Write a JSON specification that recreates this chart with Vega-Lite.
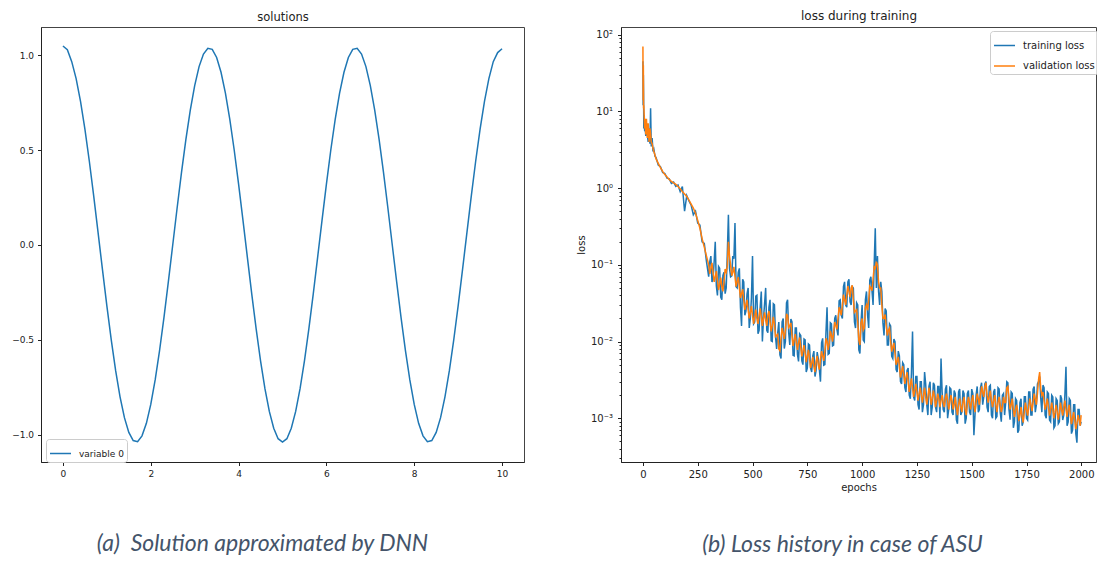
{
  "$schema": "https://vega.github.io/schema/vega-lite/v6.json",
  "background": "white",
  "padding": {"left": 11, "top": 8, "right": 0, "bottom": 4},
  "bounds": "flush",
  "spacing": 97,
  "config": {
    "view": {"stroke": "#444", "strokeWidth": 1},
    "axis": {"grid": false, "labelFont": "DejaVu Sans", "labelFontSize": 10, "labelColor": "#222", "tickColor": "#222", "domainColor": "#222", "tickSize": 3.5, "labelPadding": 3.5, "titleFont": "DejaVu Sans", "titleFontSize": 10, "titleFontWeight": "normal", "titleColor": "#222"},
    "legend": {"strokeColor": "#cccccc", "fillColor": "rgba(255,255,255,0.8)", "cornerRadius": 3, "padding": 3, "labelFont": "DejaVu Sans", "labelFontSize": 10, "labelColor": "#222", "symbolType": "stroke", "symbolSize": 441, "symbolStrokeWidth": 1.5, "labelOffset": 7, "rowPadding": 3.5},
    "title": {"font": "Lato", "fontStyle": "italic", "fontWeight": "normal", "fontSize": 23, "color": "#44546a", "frame": "group", "anchor": "middle"}
  },
  "resolve": {"scale": {"color": "independent"}, "legend": {"color": "independent"}},
  "hconcat": [
    {
      "width": 483,
      "height": 435,
      "title": {"text": "(a)\u00a0 Solution approximated by DNN", "orient": "bottom", "offset": 55, "dx": -20},
      "data": {"values": [
        {"x":0,"y":1.05},{"x":0.1,"y":1.03},{"x":0.2,"y":0.967},{"x":0.3,"y":0.878},{"x":0.4,"y":0.758},{"x":0.5,"y":0.611},{"x":0.6,"y":0.443},{"x":0.7,"y":0.259},{"x":0.8,"y":0.065},{"x":0.9,"y":-0.13},
        {"x":1.0,"y":-0.321},{"x":1.1,"y":-0.501},{"x":1.2,"y":-0.663},{"x":1.3,"y":-0.801},{"x":1.4,"y":-0.911},{"x":1.5,"y":-0.989},{"x":1.6,"y":-1.032},{"x":1.7,"y":-1.038},{"x":1.8,"y":-1.007},{"x":1.9,"y":-0.941},
        {"x":2.0,"y":-0.841},{"x":2.1,"y":-0.712},{"x":2.2,"y":-0.557},{"x":2.3,"y":-0.383},{"x":2.4,"y":-0.195},{"x":2.5,"y":0.0},{"x":2.6,"y":0.195},{"x":2.7,"y":0.383},{"x":2.8,"y":0.557},{"x":2.9,"y":0.712},
        {"x":3.0,"y":0.841},{"x":3.1,"y":0.941},{"x":3.2,"y":1.007},{"x":3.3,"y":1.038},{"x":3.4,"y":1.032},{"x":3.5,"y":0.989},{"x":3.6,"y":0.911},{"x":3.7,"y":0.801},{"x":3.8,"y":0.663},{"x":3.9,"y":0.501},
        {"x":4.0,"y":0.321},{"x":4.1,"y":0.13},{"x":4.2,"y":-0.065},{"x":4.3,"y":-0.259},{"x":4.4,"y":-0.443},{"x":4.5,"y":-0.611},{"x":4.6,"y":-0.758},{"x":4.7,"y":-0.878},{"x":4.8,"y":-0.967},{"x":4.9,"y":-1.022},
        {"x":5.0,"y":-1.04},{"x":5.1,"y":-1.022},{"x":5.2,"y":-0.967},{"x":5.3,"y":-0.878},{"x":5.4,"y":-0.758},{"x":5.5,"y":-0.611},{"x":5.6,"y":-0.443},{"x":5.7,"y":-0.259},{"x":5.8,"y":-0.065},{"x":5.9,"y":0.13},
        {"x":6.0,"y":0.321},{"x":6.1,"y":0.501},{"x":6.2,"y":0.663},{"x":6.3,"y":0.801},{"x":6.4,"y":0.911},{"x":6.5,"y":0.989},{"x":6.6,"y":1.032},{"x":6.7,"y":1.038},{"x":6.8,"y":1.007},{"x":6.9,"y":0.941},
        {"x":7.0,"y":0.841},{"x":7.1,"y":0.712},{"x":7.2,"y":0.557},{"x":7.3,"y":0.383},{"x":7.4,"y":0.195},{"x":7.5,"y":0.0},{"x":7.6,"y":-0.195},{"x":7.7,"y":-0.383},{"x":7.8,"y":-0.557},{"x":7.9,"y":-0.712},
        {"x":8.0,"y":-0.841},{"x":8.1,"y":-0.941},{"x":8.2,"y":-1.007},{"x":8.3,"y":-1.038},{"x":8.4,"y":-1.032},{"x":8.5,"y":-0.989},{"x":8.6,"y":-0.911},{"x":8.7,"y":-0.801},{"x":8.8,"y":-0.663},{"x":8.9,"y":-0.501},
        {"x":9.0,"y":-0.321},{"x":9.1,"y":-0.13},{"x":9.2,"y":0.065},{"x":9.3,"y":0.259},{"x":9.4,"y":0.443},{"x":9.5,"y":0.611},{"x":9.6,"y":0.758},{"x":9.7,"y":0.878},{"x":9.8,"y":0.967},{"x":9.9,"y":1.015},
        {"x":10.0,"y":1.035}
      ]},
      "resolve": {"axis": {"x": "independent", "y": "independent"}},
      "layer": [
        {
          "mark": {"type": "line", "strokeWidth": 1.5},
          "encoding": {
            "x": {"field": "x", "type": "quantitative", "scale": {"domain": [-0.5, 10.5], "nice": false, "zero": false}, "axis": {"values": [0, 2, 4, 6, 8, 10], "format": "d", "title": null, "labelFontSize": 9}},
            "y": {"field": "y", "type": "quantitative", "scale": {"domain": [-1.145, 1.15], "nice": false, "zero": false}, "axis": {"values": [-1, -0.5, 0, 0.5, 1], "format": ".1f", "title": null, "labelFontSize": 9, "labelPadding": 4}},
            "color": {"datum": "variable 0", "type": "nominal", "scale": {"range": ["#1f77b4"]}, "legend": {"orient": "none", "legendX": 5, "legendY": 412, "title": null, "labelFontSize": 9}}
          }
        },
        {
          "mark": {"type": "line", "opacity": 0},
          "encoding": {
            "x": {"field": "x", "type": "quantitative", "scale": {"domain": [-0.5, 10.5], "nice": false, "zero": false}, "axis": {"orient": "top", "title": "solutions", "labels": false, "ticks": false, "domain": false, "titleFontSize": 11.5, "titlePadding": 5, "titleFont": "DejaVu Sans"}},
            "y": {"field": "y", "type": "quantitative", "scale": {"domain": [-1.145, 1.15], "nice": false, "zero": false}, "axis": null}
          }
        }
      ]
    },
    {
      "width": 475,
      "height": 435,
      "title": {"text": "(b) Loss history in case of ASU", "orient": "bottom", "offset": 42, "dx": -16},
      "data": {"values": [
        {"e":0,"t":45,"v":70},{"e":1,"t":12,"v":14},{"e":2,"t":30,"v":40},{"e":3,"t":17,"v":11},{"e":4,"t":6,"v":12},{"e":6,"t":9,"v":8.5},{"e":8,"t":5.5,"v":6},{"e":10,"t":6.5,"v":8},{"e":13,"t":4.8,"v":5},{"e":16,"t":7,"v":8},
        {"e":20,"t":5,"v":4.5},{"e":24,"t":4,"v":7},{"e":28,"t":6,"v":4},{"e":32,"t":3.8,"v":6},{"e":35,"t":11,"v":5},{"e":38,"t":3.5,"v":4},{"e":42,"t":4.5,"v":3.8},{"e":46,"t":3,"v":3.3},{"e":50,"t":3.2,"v":3},{"e":55,"t":2.6,"v":2.7},
        {"e":60,"t":2.5,"v":2.4},{"e":70,"t":2.0,"v":2.1},{"e":80,"t":1.9,"v":1.85},{"e":90,"t":1.6,"v":1.65},{"e":100,"t":1.55,"v":1.5},{"e":110,"t":1.35,"v":1.4},{"e":120,"t":1.32,"v":1.3},{"e":130,"t":1.15,"v":1.22},{"e":140,"t":1.2,"v":1.17},{"e":150,"t":1.05,"v":1.12},
        {"e":160,"t":1.1,"v":1.05},{"e":170,"t":0.9,"v":0.98},{"e":180,"t":1.05,"v":0.9},{"e":190,"t":0.5,"v":0.84},{"e":200,"t":0.8,"v":0.78},{"e":210,"t":0.68,"v":0.7},{"e":220,"t":0.6,"v":0.62},{"e":230,"t":0.45,"v":0.55},{"e":240,"t":0.5,"v":0.47},{"e":250,"t":0.35,"v":0.38},
        {"e":260,"t":0.33,"v":0.3},{"e":270,"t":0.2,"v":0.22},{"e":280,"t":0.19,"v":0.17},{"e":290,"t":0.11,"v":0.13},{"e":300,"t":0.07,"v":0.1},{"e":310,"t":0.13,"v":0.09},{"e":320,"t":0.065,"v":0.08},{"e":330,"t":0.2,"v":0.07},{"e":340,"t":0.04,"v":0.062},{"e":350,"t":0.09,"v":0.056},
        {"e":360,"t":0.035,"v":0.052},{"e":370,"t":0.08,"v":0.06},{"e":380,"t":0.05,"v":0.08},{"e":390,"t":0.45,"v":0.2},{"e":400,"t":0.07,"v":0.1},{"e":410,"t":0.13,"v":0.08},{"e":420,"t":0.35,"v":0.07},{"e":430,"t":0.05,"v":0.06},{"e":440,"t":0.09,"v":0.05},{"e":450,"t":0.016,"v":0.042},
        {"e":460,"t":0.06,"v":0.035},{"e":470,"t":0.025,"v":0.03},{"e":480,"t":0.05,"v":0.026},{"e":490,"t":0.02,"v":0.024},{"e":500,"t":0.13,"v":0.022},{"e":510,"t":0.018,"v":0.021},{"e":520,"t":0.04,"v":0.02},{"e":530,"t":0.014,"v":0.022},{"e":540,"t":0.045,"v":0.021},{"e":550,"t":0.02,"v":0.02},
        {"e":560,"t":0.05,"v":0.019},{"e":570,"t":0.013,"v":0.022},{"e":580,"t":0.035,"v":0.018},{"e":590,"t":0.01,"v":0.016},{"e":600,"t":0.03,"v":0.017},{"e":610,"t":0.008,"v":0.012},{"e":620,"t":0.018,"v":0.008},{"e":630,"t":0.006,"v":0.011},{"e":640,"t":0.02,"v":0.013},{"e":650,"t":0.01,"v":0.014},
        {"e":660,"t":0.035,"v":0.022},{"e":670,"t":0.009,"v":0.016},{"e":680,"t":0.018,"v":0.012},{"e":690,"t":0.0065,"v":0.0105},{"e":700,"t":0.015,"v":0.0095},{"e":710,"t":0.0055,"v":0.0098},{"e":720,"t":0.012,"v":0.0085},{"e":730,"t":0.005,"v":0.0075},{"e":740,"t":0.0105,"v":0.007},{"e":750,"t":0.0045,"v":0.0065},
        {"e":760,"t":0.009,"v":0.006},{"e":770,"t":0.004,"v":0.0052},{"e":780,"t":0.0075,"v":0.0047},{"e":790,"t":0.0042,"v":0.0055},{"e":800,"t":0.006,"v":0.005},{"e":810,"t":0.003,"v":0.0058},{"e":820,"t":0.011,"v":0.0065},{"e":830,"t":0.005,"v":0.0075},{"e":840,"t":0.028,"v":0.01},{"e":850,"t":0.007,"v":0.0095},
        {"e":860,"t":0.017,"v":0.012},{"e":870,"t":0.009,"v":0.013},{"e":880,"t":0.022,"v":0.016},{"e":890,"t":0.012,"v":0.02},{"e":900,"t":0.035,"v":0.025},{"e":910,"t":0.02,"v":0.03},{"e":920,"t":0.06,"v":0.035},{"e":930,"t":0.028,"v":0.04},{"e":940,"t":0.065,"v":0.045},{"e":950,"t":0.03,"v":0.05},
        {"e":960,"t":0.05,"v":0.035},{"e":970,"t":0.015,"v":0.025},{"e":980,"t":0.03,"v":0.018},{"e":990,"t":0.007,"v":0.009},{"e":1000,"t":0.03,"v":0.02},{"e":1010,"t":0.01,"v":0.015},{"e":1020,"t":0.045,"v":0.03},{"e":1030,"t":0.015,"v":0.035},{"e":1040,"t":0.07,"v":0.05},{"e":1050,"t":0.03,"v":0.065},
        {"e":1060,"t":0.3,"v":0.09},{"e":1065,"t":0.05,"v":0.11},{"e":1070,"t":0.13,"v":0.1},{"e":1080,"t":0.03,"v":0.05},{"e":1090,"t":0.045,"v":0.03},{"e":1100,"t":0.012,"v":0.02},{"e":1110,"t":0.025,"v":0.016},{"e":1120,"t":0.009,"v":0.014},{"e":1130,"t":0.016,"v":0.01},{"e":1140,"t":0.006,"v":0.0085},
        {"e":1150,"t":0.01,"v":0.007},{"e":1160,"t":0.004,"v":0.0055},{"e":1170,"t":0.0065,"v":0.0047},{"e":1180,"t":0.0028,"v":0.004},{"e":1190,"t":0.005,"v":0.0037},{"e":1200,"t":0.0022,"v":0.0034},{"e":1210,"t":0.0045,"v":0.003},{"e":1220,"t":0.0018,"v":0.0027},{"e":1230,"t":0.0135,"v":0.0025},{"e":1240,"t":0.0017,"v":0.0023},
        {"e":1250,"t":0.0035,"v":0.0022},{"e":1260,"t":0.0013,"v":0.0021},{"e":1270,"t":0.003,"v":0.002},{"e":1280,"t":0.0015,"v":0.002},{"e":1290,"t":0.0028,"v":0.0019},{"e":1300,"t":0.0011,"v":0.0019},{"e":1310,"t":0.003,"v":0.0021},{"e":1320,"t":0.0014,"v":0.0018},{"e":1330,"t":0.0027,"v":0.0019},{"e":1340,"t":0.0012,"v":0.0017},
        {"e":1350,"t":0.0026,"v":0.0018},{"e":1360,"t":0.006,"v":0.0017},{"e":1370,"t":0.0013,"v":0.0016},{"e":1380,"t":0.0024,"v":0.0018},{"e":1390,"t":0.001,"v":0.0017},{"e":1400,"t":0.0025,"v":0.0016},{"e":1410,"t":0.0012,"v":0.0017},{"e":1420,"t":0.0023,"v":0.0015},{"e":1430,"t":0.00095,"v":0.0014},{"e":1440,"t":0.0022,"v":0.0015},
        {"e":1450,"t":0.0011,"v":0.0014},{"e":1460,"t":0.0023,"v":0.0016},{"e":1470,"t":0.00085,"v":0.0013},{"e":1480,"t":0.0021,"v":0.0015},{"e":1490,"t":0.0012,"v":0.0016},{"e":1500,"t":0.0024,"v":0.0017},{"e":1510,"t":0.0006,"v":0.0015},{"e":1520,"t":0.002,"v":0.0016},{"e":1530,"t":0.0012,"v":0.0018},{"e":1540,"t":0.0025,"v":0.002},
        {"e":1550,"t":0.0015,"v":0.0022},{"e":1560,"t":0.0028,"v":0.0026},{"e":1570,"t":0.0014,"v":0.002},{"e":1580,"t":0.0026,"v":0.0019},{"e":1590,"t":0.0011,"v":0.0017},{"e":1600,"t":0.0022,"v":0.0017},{"e":1610,"t":0.001,"v":0.0015},{"e":1620,"t":0.0025,"v":0.0016},{"e":1630,"t":0.0012,"v":0.0015},{"e":1640,"t":0.002,"v":0.0014},
        {"e":1650,"t":0.0011,"v":0.0016},{"e":1660,"t":0.003,"v":0.0025},{"e":1670,"t":0.0013,"v":0.0018},{"e":1680,"t":0.0022,"v":0.0015},{"e":1690,"t":0.00075,"v":0.0013},{"e":1700,"t":0.0018,"v":0.0013},{"e":1710,"t":0.00065,"v":0.0012},{"e":1720,"t":0.0016,"v":0.0011},{"e":1730,"t":0.0008,"v":0.00105},{"e":1740,"t":0.0019,"v":0.0012},
        {"e":1750,"t":0.001,"v":0.0013},{"e":1760,"t":0.0022,"v":0.0014},{"e":1770,"t":0.0011,"v":0.0015},{"e":1780,"t":0.0024,"v":0.0016},{"e":1790,"t":0.0012,"v":0.0018},{"e":1800,"t":0.0028,"v":0.0021},{"e":1810,"t":0.0035,"v":0.004},{"e":1820,"t":0.0012,"v":0.002},{"e":1830,"t":0.0025,"v":0.0017},{"e":1840,"t":0.001,"v":0.0015},
        {"e":1850,"t":0.0021,"v":0.0014},{"e":1860,"t":0.0009,"v":0.0013},{"e":1870,"t":0.0019,"v":0.0013},{"e":1880,"t":0.0008,"v":0.0012},{"e":1890,"t":0.0017,"v":0.0012},{"e":1900,"t":0.0009,"v":0.0012},{"e":1910,"t":0.0018,"v":0.0013},{"e":1920,"t":0.0011,"v":0.0014},{"e":1930,"t":0.0047,"v":0.0013},{"e":1940,"t":0.0009,"v":0.0013},
        {"e":1950,"t":0.0017,"v":0.0011},{"e":1960,"t":0.0007,"v":0.001},{"e":1970,"t":0.0015,"v":0.00095},{"e":1980,"t":0.00048,"v":0.00085},{"e":1990,"t":0.0013,"v":0.00095},{"e":1999,"t":0.0009,"v":0.0011},
        {"e":305,"t":0.11,"v":0.076},{"e":315,"t":0.06,"v":0.106},{"e":325,"t":0.11,"v":0.06},{"e":335,"t":0.053,"v":0.083},{"e":345,"t":0.095,"v":0.047},{"e":355,"t":0.038,"v":0.068},{"e":365,"t":0.073,"v":0.045},{"e":375,"t":0.042,"v":0.088},{"e":385,"t":0.14,"v":0.096},{"e":395,"t":0.09,"v":0.13},
        {"e":405,"t":0.072,"v":0.072},{"e":415,"t":0.12,"v":0.094},{"e":425,"t":0.052,"v":0.052},{"e":435,"t":0.08,"v":0.069},{"e":445,"t":0.028,"v":0.037},{"e":455,"t":0.065,"v":0.048},{"e":465,"t":0.022,"v":0.026},{"e":475,"t":0.042,"v":0.035},{"e":485,"t":0.015,"v":0.02},{"e":495,"t":0.037,"v":0.029},
        {"e":505,"t":0.017,"v":0.017},{"e":515,"t":0.039,"v":0.026},{"e":525,"t":0.0126,"v":0.017},{"e":535,"t":0.028,"v":0.027},{"e":545,"t":0.01,"v":0.016},{"e":555,"t":0.031,"v":0.024},{"e":565,"t":0.014,"v":0.016},{"e":575,"t":0.028,"v":0.025},{"e":585,"t":0.0102,"v":0.0136},{"e":595,"t":0.031,"v":0.021},
        {"e":605,"t":0.0116,"v":0.0116},{"e":615,"t":0.013,"v":0.0125},{"e":625,"t":0.0067,"v":0.0076},{"e":635,"t":0.018,"v":0.015},{"e":645,"t":0.0081,"v":0.0108},{"e":655,"t":0.032,"v":0.0225},{"e":665,"t":0.013,"v":0.0152},{"e":675,"t":0.0196,"v":0.0175},{"e":685,"t":0.0066,"v":0.0088},{"e":695,"t":0.015,"v":0.0125},
        {"e":705,"t":0.0068,"v":0.0078},{"e":715,"t":0.0126,"v":0.0113},{"e":725,"t":0.0056,"v":0.0064},{"e":735,"t":0.0108,"v":0.009},{"e":745,"t":0.004,"v":0.0054},{"e":755,"t":0.0093,"v":0.0078},{"e":765,"t":0.0045,"v":0.0045},{"e":775,"t":0.0065,"v":0.0063},{"e":785,"t":0.0035,"v":0.004},{"e":795,"t":0.0073,"v":0.0065},
        {"e":805,"t":0.0043,"v":0.0043},{"e":815,"t":0.0096,"v":0.0075},{"e":825,"t":0.0049,"v":0.0056},{"e":835,"t":0.013,"v":0.011},{"e":845,"t":0.0068,"v":0.0078},{"e":855,"t":0.0176,"v":0.0138},{"e":865,"t":0.0088,"v":0.01},{"e":875,"t":0.02,"v":0.018},{"e":885,"t":0.0144,"v":0.0144},{"e":895,"t":0.034,"v":0.028},
        {"e":905,"t":0.022,"v":0.022},{"e":915,"t":0.052,"v":0.041},{"e":925,"t":0.03,"v":0.03},{"e":935,"t":0.06,"v":0.053},{"e":945,"t":0.033,"v":0.038},{"e":955,"t":0.052,"v":0.054},{"e":965,"t":0.018,"v":0.024},{"e":975,"t":0.032,"v":0.026},{"e":985,"t":0.0078,"v":0.0104},{"e":995,"t":0.018,"v":0.0175},
        {"e":1005,"t":0.0105,"v":0.014},{"e":1015,"t":0.035,"v":0.0275},{"e":1025,"t":0.022,"v":0.0256},{"e":1035,"t":0.063,"v":0.0525},{"e":1045,"t":0.046,"v":0.046},{"e":1055,"t":0.1,"v":0.094},{"e":1075,"t":0.045,"v":0.06},{"e":1085,"t":0.06,"v":0.05},{"e":1095,"t":0.0175,"v":0.02},
        {"e":1105,"t":0.027,"v":0.0225},{"e":1115,"t":0.009,"v":0.012},{"e":1125,"t":0.017,"v":0.015},{"e":1135,"t":0.0064,"v":0.0074},{"e":1145,"t":0.0108,"v":0.0096},{"e":1155,"t":0.0043,"v":0.005},{"e":1165,"t":0.0075,"v":0.0063},{"e":1175,"t":0.003,"v":0.0034},{"e":1185,"t":0.0053,"v":0.0048},{"e":1195,"t":0.0025,"v":0.0028},
        {"e":1205,"t":0.0042,"v":0.004},{"e":1215,"t":0.002,"v":0.0022},{"e":1225,"t":0.0039,"v":0.0033},{"e":1235,"t":0.0019,"v":0.0019},{"e":1245,"t":0.0035,"v":0.0028},{"e":1255,"t":0.0015,"v":0.0017},{"e":1265,"t":0.003,"v":0.0025},{"e":1275,"t":0.0012,"v":0.0016},{"e":1285,"t":0.004,"v":0.0025},{"e":1295,"t":0.0015,"v":0.0015},
        {"e":1305,"t":0.0026,"v":0.0025},{"e":1315,"t":0.0011,"v":0.0015},{"e":1325,"t":0.0029,"v":0.0023},{"e":1335,"t":0.0014,"v":0.0014},{"e":1345,"t":0.0026,"v":0.0021},{"e":1355,"t":0.001,"v":0.0014},{"e":1365,"t":0.0022,"v":0.002},{"e":1375,"t":0.0012,"v":0.0014},{"e":1385,"t":0.0027,"v":0.0021},{"e":1395,"t":0.0013,"v":0.0013},
        {"e":1405,"t":0.0024,"v":0.002},{"e":1415,"t":0.0011,"v":0.0013},{"e":1425,"t":0.0021,"v":0.0019},{"e":1435,"t":0.00085,"v":0.0011},{"e":1445,"t":0.0024,"v":0.0018},{"e":1455,"t":0.0012,"v":0.0012},{"e":1465,"t":0.0021,"v":0.0019},{"e":1475,"t":0.001,"v":0.0011},{"e":1485,"t":0.0023,"v":0.0019},{"e":1495,"t":0.0011,"v":0.0013},
        {"e":1505,"t":0.0021,"v":0.002},{"e":1515,"t":0.0011,"v":0.0012},{"e":1525,"t":0.0026,"v":0.0021},{"e":1535,"t":0.0013,"v":0.0015},{"e":1545,"t":0.0029,"v":0.0026},{"e":1555,"t":0.0019,"v":0.0019},{"e":1565,"t":0.003,"v":0.0029},{"e":1575,"t":0.0012,"v":0.0016},{"e":1585,"t":0.0027,"v":0.0023},{"e":1595,"t":0.001,"v":0.0014},
        {"e":1605,"t":0.0024,"v":0.002},{"e":1615,"t":0.00105,"v":0.0012},{"e":1625,"t":0.0024,"v":0.0019},{"e":1635,"t":0.0009,"v":0.0012},{"e":1645,"t":0.0021,"v":0.0019},{"e":1655,"t":0.0016,"v":0.0016},{"e":1665,"t":0.0029,"v":0.0026},{"e":1675,"t":0.00096,"v":0.0013},{"e":1685,"t":0.0021,"v":0.0018},{"e":1695,"t":0.0009,"v":0.00104},
        {"e":1705,"t":0.0017,"v":0.0015},{"e":1715,"t":0.0007,"v":0.00092},{"e":1725,"t":0.0018,"v":0.0014},{"e":1735,"t":0.0009,"v":0.00088},{"e":1745,"t":0.0019,"v":0.0016},{"e":1755,"t":0.00095,"v":0.00108},{"e":1765,"t":0.0022,"v":0.0018},{"e":1775,"t":0.0011,"v":0.00124},{"e":1785,"t":0.0026,"v":0.0021},{"e":1795,"t":0.0015,"v":0.0015},
        {"e":1805,"t":0.003,"v":0.0032},{"e":1815,"t":0.0018,"v":0.0024},{"e":1825,"t":0.0027,"v":0.0022},{"e":1835,"t":0.0011,"v":0.0013},{"e":1845,"t":0.0022,"v":0.0018},{"e":1855,"t":0.00095,"v":0.00108},{"e":1865,"t":0.002,"v":0.0016},{"e":1875,"t":0.00075,"v":0.001},{"e":1885,"t":0.0018,"v":0.0015},{"e":1895,"t":0.00085,"v":0.00096},
        {"e":1905,"t":0.002,"v":0.0016},{"e":1915,"t":0.00095,"v":0.00108},{"e":1925,"t":0.002,"v":0.0017},{"e":1935,"t":0.0008,"v":0.00104},{"e":1945,"t":0.0018,"v":0.0015},{"e":1955,"t":0.00063,"v":0.00084},{"e":1965,"t":0.0015,"v":0.0012},{"e":1975,"t":0.00063,"v":0.00072},{"e":1985,"t":0.0013,"v":0.0011},{"e":1995,"t":0.0008,"v":0.0008}
      ]},
      "resolve": {"axis": {"x": "independent", "y": "independent"}},
      "layer": [
        {
          "mark": {"type": "line", "strokeWidth": 1.5},
          "encoding": {
            "x": {"field": "e", "type": "quantitative", "scale": {"domain": [-100, 2067], "nice": false, "zero": false}, "axis": {"values": [0, 250, 500, 750, 1000, 1250, 1500, 1750, 2000], "format": "d", "title": "epochs", "titlePadding": 3}},
            "y": {"field": "t", "type": "quantitative", "scale": {"type": "log", "domain": [0.000269, 126], "nice": false}, "axis": {
              "title": "loss", "titlePadding": 4,
              "values": [0.0003,0.0004,0.0005,0.0006,0.0007,0.0008,0.0009,0.001,0.002,0.003,0.004,0.005,0.006,0.007,0.008,0.009,0.01,0.02,0.03,0.04,0.05,0.06,0.07,0.08,0.09,0.1,0.2,0.3,0.4,0.5,0.6,0.7,0.8,0.9,1,2,3,4,5,6,7,8,9,10,20,30,40,50,60,70,80,90,100],
              "tickSize": {"condition": {"test": "abs(log(datum.value)/LN10 - round(log(datum.value)/LN10)) < 0.001", "value": 3.5}, "value": 2},
              "labelPadding": 5,
              "labelExpr": "abs(log(datum.value)/LN10 - round(log(datum.value)/LN10)) > 0.001 ? '' : datum.value > 50 ? '10²' : datum.value > 5 ? '10¹' : datum.value > 0.5 ? '10⁰' : datum.value > 0.05 ? '10⁻¹' : datum.value > 0.005 ? '10⁻²' : '10⁻³'"
            }},
            "color": {"datum": "training loss", "type": "nominal", "scale": {"domain": ["training loss", "validation loss"], "range": ["#1f77b4", "#ff7f0e"]}, "legend": {"orient": "none", "legendX": 369, "legendY": 4, "title": null}}
          }
        },
        {
          "mark": {"type": "line", "strokeWidth": 1.5},
          "encoding": {
            "x": {"field": "e", "type": "quantitative", "scale": {"domain": [-100, 2067], "nice": false, "zero": false}, "axis": {"orient": "top", "title": "loss during training", "labels": false, "ticks": false, "domain": false, "titleFontSize": 12, "titlePadding": 5}},
            "y": {"field": "v", "type": "quantitative", "scale": {"type": "log", "domain": [0.000269, 126], "nice": false}, "axis": null},
            "color": {"datum": "validation loss", "type": "nominal"}
          }
        }
      ]
    }
  ]
}
